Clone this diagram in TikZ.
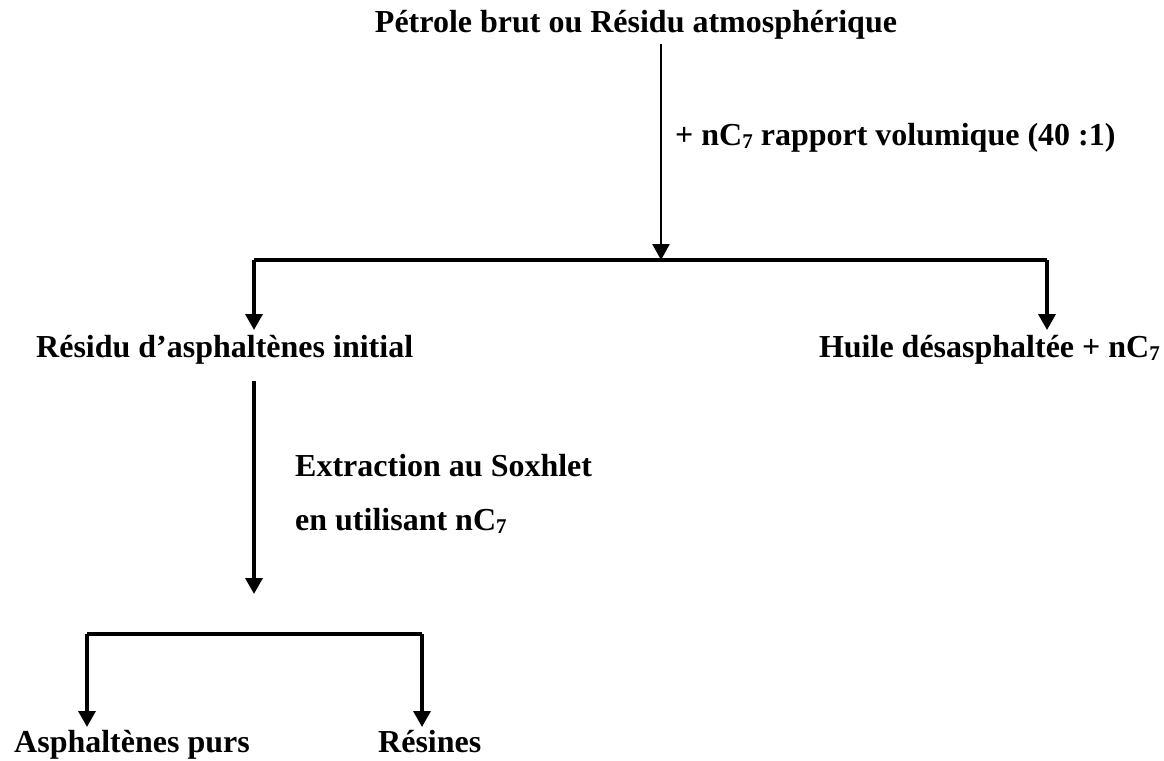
\documentclass[tikz,border=0pt]{standalone}
\usepackage{fontspec}
\setmainfont{Liberation Serif}
\usetikzlibrary{arrows.meta}
\newcommand\subsev[1]{\raisebox{-3pt}{\fontsize{21}{21}\selectfont #1}}
\begin{document}
\begin{tikzpicture}[x=1pt,y=-1pt,
  lbl/.style={inner sep=4pt, font=\fontsize{32}{38}\selectfont\bfseries},
  conn/.style={line width=3.5pt},
  arr/.style={line width=3.5pt, -{Triangle[width=17pt,length=16pt]}},
  thinarr/.style={line width=2.5pt, -{Triangle[width=17pt,length=16pt]}}]
\useasboundingbox (0,0) rectangle (1164,760);
% nodes
\node[lbl, anchor=base] (crude) at (636,33) {Pétrole brut ou Résidu atmosphérique};
\node[lbl, anchor=base west] (ratio) at (671,145) {+ nC\subsev{7} rapport volumique (40 :1)};
\node[lbl, anchor=base west] (residu) at (32,357) {Résidu d’asphaltènes initial};
\node[lbl, anchor=base east] (huile) at (1164,357) {Huile désasphaltée + nC\subsev{7}};
\node[lbl, anchor=base west] (extr) at (291,476) {Extraction au Soxhlet};
\node[lbl, anchor=base west] (util) at (291,530) {en utilisant nC\subsev{7}};
\node[lbl, anchor=base west] (asph) at (10,752) {Asphaltènes purs};
\node[lbl, anchor=base west] (resines) at (374,752) {Résines};
% junctions
\coordinate (j1) at (661,260);
\coordinate (j1l) at (254,260);
\coordinate (j1r) at (1047,260);
\coordinate (v2) at (254,381);
\coordinate (v2end) at (254,594);
\coordinate (j2l) at (87,634);
\coordinate (j2r) at (422,634);
% connectors
\draw[thinarr] (crude.south -| j1) -- (j1);
\draw[conn] (j1l) -- (j1r);
\draw[arr] (j1l) -- (j1l |- 0,330);
\draw[arr] (j1r) -- (j1r |- 0,330);
\draw[arr] (v2) -- (v2end);
\draw[conn] (j2l) -- (j2r);
\draw[arr] (j2l) -- (j2l |- 0,727);
\draw[arr] (j2r) -- (j2r |- 0,727);
\end{tikzpicture}
\end{document}
